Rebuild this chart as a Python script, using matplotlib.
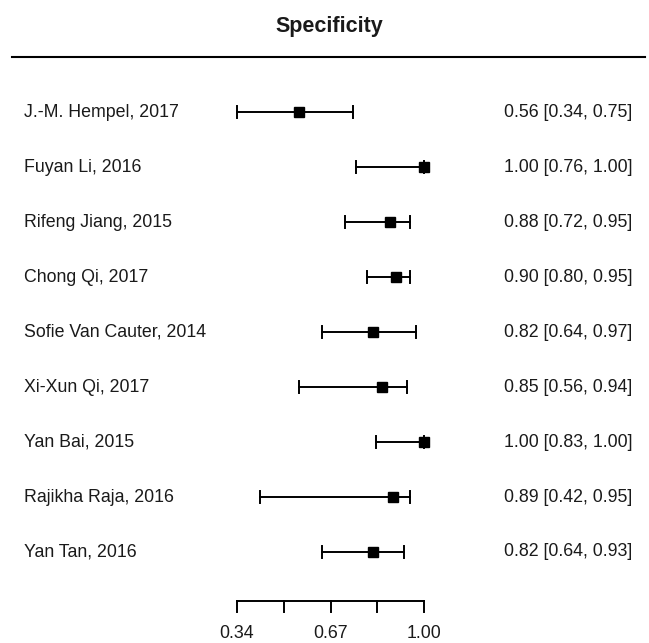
import matplotlib.pyplot as plt

plt.rcParams['font.family'] = ['Liberation Sans', 'DejaVu Sans']

studies = ['J.-M. Hempel, 2017', 'Fuyan Li, 2016', 'Rifeng Jiang, 2015',
           'Chong Qi, 2017', 'Sofie Van Cauter, 2014', 'Xi-Xun Qi, 2017',
           'Yan Bai, 2015', 'Rajikha Raja, 2016', 'Yan Tan, 2016']
est = [0.56, 1.00, 0.88, 0.90, 0.82, 0.85, 1.00, 0.89, 0.82]
lower = [0.34, 0.76, 0.72, 0.80, 0.64, 0.56, 0.83, 0.42, 0.64]
upper = [0.75, 1.00, 0.95, 0.95, 0.97, 0.94, 1.00, 0.95, 0.93]
tick_vals = [0.34, 0.505, 0.67, 0.835, 1.00]
tick_labels = ['0.34', '', '0.67', '', '1.00']

W, H = 649, 643
fig = plt.figure(figsize=(W / 100, H / 100), dpi=100)
ax = fig.add_axes([0, 0, 1, 1])
ax.axis('off')

# map pixels -> data: 0.34 at x=237px, 1.00 at x=424px; row i at y = 112 + 55*i px
upp = 0.66 / 187
ax.set_xlim(0.34 - 237 * upp, 1.00 + (W - 424) * upp)
row_h = 55.0
ax.set_ylim((H - 112) / row_h, -112 / row_h)

x_left = 0.34 - (237 - 24) * upp
x_right = 1.00 + (632 - 424) * upp
cap = 0.11
fs = 12.8
lw = 1.4
txt_col = '#1a1a1a'

for i, name in enumerate(studies):
    ax.plot([lower[i], upper[i]], [i, i], color='black', lw=lw)
    ax.plot([lower[i], lower[i]], [i - cap, i + cap], color='black', lw=lw)
    ax.plot([upper[i], upper[i]], [i - cap, i + cap], color='black', lw=lw)
    ax.plot(est[i], i, marker='s', color='black', markersize=6.5)
    ax.text(x_left, i, name, ha='left', va='center', fontsize=fs, color=txt_col)
    ax.text(x_right, i, f'{est[i]:.2f} [{lower[i]:.2f}, {upper[i]:.2f}]',
            ha='right', va='center', fontsize=fs, color=txt_col)

# title and header rule
ax.text(0.34 + (329 - 237) * upp, (26 - 112) / row_h, 'Specificity',
        ha='center', va='center', fontsize=15.5, fontweight='bold', color=txt_col)
ax.plot([0.34 - (237 - 12) * upp, 0.34 + (645 - 237) * upp],
        [(57 - 112) / row_h] * 2, color='black', lw=1.5)

# x axis
y_axis = (601 - 112) / row_h
tick_len = 11 / row_h
ax.plot([tick_vals[0], tick_vals[-1]], [y_axis, y_axis], color='black', lw=lw)
for v, lab in zip(tick_vals, tick_labels):
    ax.plot([v, v], [y_axis, y_axis + tick_len], color='black', lw=lw)
    if lab:
        ax.text(v, (634 - 112) / row_h, lab, ha='center', va='center',
                fontsize=fs, color=txt_col)

fig.savefig('out.png', dpi=100)
